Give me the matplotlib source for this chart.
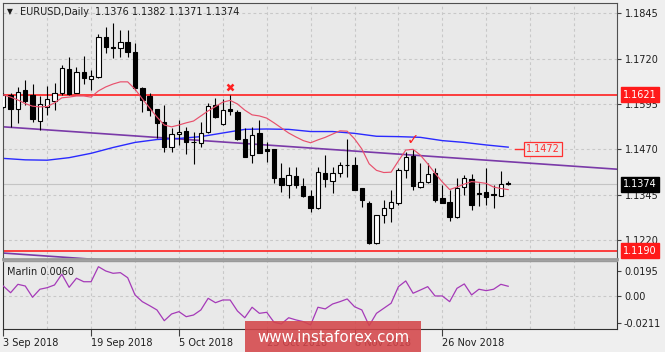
import matplotlib.pyplot as plt
import matplotlib.transforms as mtransforms
from matplotlib.patches import Rectangle
import numpy as np

# EURUSD daily candles, 3 Sep 2018 .. 7 Dec 2018
opens = [1.1587, 1.1620, 1.1581, 1.1634, 1.1620, 1.1548, 1.1587, 1.1603, 1.1625, 1.1691,
         1.1625, 1.1683, 1.1664, 1.1669, 1.1780, 1.1752, 1.1750, 1.1766, 1.1738, 1.1639,
         1.1617, 1.1581, 1.1545, 1.1476, 1.1512, 1.1521, 1.1491, 1.1488, 1.1518, 1.1592,
         1.1540, 1.1581, 1.1573, 1.1498, 1.1454, 1.1515, 1.1471, 1.1471, 1.1391, 1.1372,
         1.1397, 1.1369, 1.1341, 1.1308, 1.1405, 1.1383, 1.1405, 1.1428, 1.1427, 1.1363,
         1.1322, 1.1212, 1.1289, 1.1308, 1.1322, 1.1413, 1.1451, 1.1366, 1.1380, 1.1405,
         1.1336, 1.1325, 1.1283, 1.1366, 1.1388, 1.1350, 1.1352, 1.1347, 1.1341, 1.1376]
highs = [1.1625, 1.1625, 1.1642, 1.1661, 1.1650, 1.1617, 1.1645, 1.1653, 1.1702, 1.1725,
         1.1697, 1.1727, 1.1689, 1.1788, 1.1807, 1.1818, 1.1799, 1.1799, 1.1763, 1.1642,
         1.1625, 1.1582, 1.1592, 1.1529, 1.1551, 1.1532, 1.1518, 1.1545, 1.1598, 1.1612,
         1.1609, 1.1620, 1.1578, 1.1529, 1.1532, 1.1551, 1.1490, 1.1472, 1.1432, 1.1421,
         1.1421, 1.1391, 1.1358, 1.1421, 1.1454, 1.1421, 1.1435, 1.1498, 1.1449, 1.1364,
         1.1328, 1.1290, 1.1330, 1.1358, 1.1419, 1.1463, 1.1471, 1.1432, 1.1432, 1.1419,
         1.1372, 1.1358, 1.1391, 1.1399, 1.1402, 1.1377, 1.1419, 1.1372, 1.1410, 1.1382]
lows = [1.1584, 1.1532, 1.1543, 1.1592, 1.1545, 1.1523, 1.1565, 1.1578, 1.1620, 1.1620,
        1.1624, 1.1650, 1.1634, 1.1668, 1.1736, 1.1722, 1.1724, 1.1724, 1.1634, 1.1573,
        1.1562, 1.1501, 1.1463, 1.1463, 1.1482, 1.1457, 1.1430, 1.1476, 1.1515, 1.1556,
        1.1537, 1.1565, 1.1496, 1.1448, 1.1432, 1.1459, 1.1435, 1.1377, 1.1352, 1.1336,
        1.1363, 1.1338, 1.1297, 1.1306, 1.1366, 1.1350, 1.1394, 1.1394, 1.1357, 1.1311,
        1.1210, 1.1210, 1.1267, 1.1270, 1.1317, 1.1391, 1.1358, 1.1363, 1.1377, 1.1325,
        1.1321, 1.1273, 1.1282, 1.1344, 1.1303, 1.1314, 1.1317, 1.1308, 1.1340, 1.1371]
closes = [1.1620, 1.1581, 1.1628, 1.1603, 1.1554, 1.1595, 1.1609, 1.1625, 1.1694, 1.1623,
          1.1683, 1.1667, 1.1672, 1.1780, 1.1752, 1.1750, 1.1766, 1.1738, 1.1639, 1.1606,
          1.1578, 1.1543, 1.1476, 1.1512, 1.1518, 1.1490, 1.1489, 1.1515, 1.1590, 1.1559,
          1.1578, 1.1575, 1.1498, 1.1449, 1.1510, 1.1460, 1.1465, 1.1391, 1.1372, 1.1399,
          1.1372, 1.1341, 1.1308, 1.1407, 1.1388, 1.1405, 1.1427, 1.1426, 1.1358, 1.1330,
          1.1212, 1.1289, 1.1308, 1.1325, 1.1413, 1.1449, 1.1369, 1.1380, 1.1402, 1.1330,
          1.1322, 1.1283, 1.1363, 1.1391, 1.1317, 1.1348, 1.1338, 1.1345, 1.1374, 1.1374]

# fast moving average (red), one value per bar
red_ma = [1.1620, 1.1614, 1.1606, 1.1596, 1.1589, 1.1587, 1.1588, 1.1598, 1.1612, 1.1614,
          1.1617, 1.1617, 1.1614, 1.1631, 1.1642, 1.1650, 1.1656, 1.1656, 1.1636, 1.1609,
          1.1584, 1.1559, 1.1537, 1.1532, 1.1537, 1.1543, 1.1548, 1.1562, 1.1576, 1.1588,
          1.1600, 1.1605, 1.1595, 1.1578, 1.1565, 1.1562, 1.1556, 1.1543, 1.1529, 1.1515,
          1.1504, 1.1494, 1.1488, 1.1496, 1.1503, 1.1512, 1.1521, 1.1520, 1.1499, 1.1471,
          1.1430, 1.1412, 1.1406, 1.1407, 1.1438, 1.1468, 1.1470, 1.1454, 1.1430, 1.1404,
          1.1380, 1.1359, 1.1366, 1.1374, 1.1381, 1.1379, 1.1376, 1.1366, 1.1362, 1.1359]

# slow moving average (blue), read every third bar
blue_bars = [0, 3, 6, 9, 12, 15, 18, 21, 24, 27, 30, 33, 36, 39, 42, 45, 48, 51, 54, 57, 60, 63, 66, 69]
blue_ma = [1.1445, 1.1441, 1.1440, 1.1447, 1.1459, 1.1475, 1.1489, 1.1497, 1.1500, 1.1505,
           1.1515, 1.1525, 1.1526, 1.1525, 1.1519, 1.1519, 1.1514, 1.1506, 1.1505, 1.1503,
           1.1494, 1.1489, 1.1482, 1.1476]

# Marlin oscillator
marlin = [0.0077, 0.0025, 0.0090, 0.0077, -0.0010, 0.0052, 0.0064, 0.0085, 0.0168, 0.0067,
          0.0137, 0.0110, 0.0110, 0.0226, 0.0193, 0.0175, 0.0180, 0.0141, 0.0008, -0.0044,
          -0.0075, -0.0108, -0.0191, -0.0139, -0.0121, -0.0160, -0.0147, -0.0108, -0.0018, -0.0052,
          -0.0031, -0.0031, -0.0116, -0.0168, -0.0087, -0.0134, -0.0126, -0.0203, -0.0216, -0.0168,
          -0.0185, -0.0198, -0.0224, -0.0087, -0.0100, -0.0062, -0.0044, -0.0023, -0.0083, -0.0108,
          -0.0229, -0.0134, -0.0095, -0.0056, 0.0072, 0.0116, 0.0021, 0.0046, 0.0072, 0.0000,
          0.0000, -0.0044, 0.0059, 0.0093, 0.0008, 0.0052, 0.0041, 0.0052, 0.0090, 0.0075]

# horizontal levels and channel lines
levels = [1.1621, 1.1190]
channel_bars = [0, 84]
channel_top = [1.1532, 1.1415]
channel_bottom = [1.1184, 1.1067]
bid = 1.1374
target = 1.1472
cross_bar, cross_price = 31, 1.1641
check_bar, check_price = 56, 1.1497

price_ticks = [1.1845, 1.1720, 1.1595, 1.1470, 1.1345, 1.1220]
marlin_ticks = [0.0195, 0.0, -0.0211]
marlin_tick_labels = ["0.0195", "0.00", "-0.0211"]
date_bars = [0, 12, 24, 36, 48, 60]
date_labels = ["3 Sep 2018", "19 Sep 2018", "5 Oct 2018", "23 Oct 2018", "8 Nov 2018", "26 Nov 2018"]

W, H = 665, 352
BG = "#e9e9e9"
TXT = "#1e1e1e"
GRID = "#c8c8c8"
DASH = (0, (2.5, 2.5))

fig = plt.figure(figsize=(W / 100, H / 100), dpi=100, facecolor="#efefef")

ax = fig.add_axes([2.7 / W, 1 - 259 / H, 614.3 / W, 256 / H], facecolor=BG)
ax2 = fig.add_axes([2.7 / W, 1 - 329 / H, 614.3 / W, 68 / H], facecolor=BG)

xlim = (-0.08, 83.87)
for a in (ax, ax2):
    a.set_xlim(*xlim)
    for b in range(6, 84, 6):
        a.axvline(b, color=GRID, lw=0.8, ls=DASH, zorder=0)

ax.set_ylim(1.11676, 1.18734)
ax2.set_ylim(-0.0255, 0.0270)

# price grid and bid line
for p in price_ticks:
    ax.axhline(p, color=GRID, lw=0.8, ls=DASH, zorder=0)
ax.axhline(bid, color="#c4c4c4", lw=0.8, zorder=1)

# channel lines
ax.plot(channel_bars, channel_top, color="#7a3aa8", lw=1.2, zorder=2)
ax.plot(channel_bars, channel_bottom, color="#7a3aa8", lw=1.2, zorder=2)

# levels
for lv in levels:
    ax.axhline(lv, color="#ff2020", lw=1.2, zorder=2)

# moving averages
ax.plot(blue_bars, blue_ma, color="#2a2aff", lw=1.0, zorder=2)
x = np.arange(len(opens))
ax.plot(x, red_ma, color="#e8506c", lw=0.85, zorder=5)

# candles
for i in range(len(opens)):
    o, h, l, c = opens[i], highs[i], lows[i], closes[i]
    ax.vlines(i, l, h, color="black", lw=0.8, zorder=3)
    lo, hi = min(o, c), max(o, c)
    ax.bar(i, max(hi - lo, 0.00003), bottom=lo, width=0.6,
           color="white" if c > o else "black", edgecolor="black", lw=0.8, zorder=4)

# arrows on chart
ax.plot(cross_bar, cross_price, marker="x", color="#ff2020", ms=4.5, mew=1.8, zorder=6)
ax.text(check_bar, check_price, "\u2713", color="#ff2020", fontsize=10.5,
        ha="center", va="center", zorder=6)

# target label
ax.plot([69.9, 71.0], [target, target], color="#ff3030", lw=1.0, zorder=6)
ax.text(71.4, target, f"{target:.4f}", color="#ff3030", fontsize=7, ha="left", va="center",
        bbox=dict(boxstyle="square,pad=0.2", fc=BG, ec="#ff3030", lw=0.9), zorder=6)

# price axis on the right
ax.yaxis.tick_right()
ax.set_yticks(price_ticks)
ax.set_yticklabels([f"{p:.4f}" for p in price_ticks])
ax.tick_params(axis="y", length=3, width=0.8, pad=3, labelsize=7, colors="#404040", labelcolor=TXT)
ax.set_xticks([])

trans = mtransforms.blended_transform_factory(ax.transAxes, ax.transData)
for val, face in [(levels[0], "#ff1a1a"), (levels[1], "#ff1a1a"), (bid, "black")]:
    ax.text(1.0098, val, f"{val:.4f}", transform=trans, color="white", fontsize=7,
            ha="left", va="center", clip_on=False, zorder=10,
            bbox=dict(boxstyle="square,pad=0.25", fc=face, ec=face))

for s in ["left", "top", "right"]:
    ax.spines[s].set_color("#505050")
    ax.spines[s].set_linewidth(0.8)
ax.spines["bottom"].set_color("#9a9a9a")
ax.spines["bottom"].set_linewidth(2.0)

# Marlin panel
ax2.axhline(0, color=GRID, lw=0.8, ls=DASH, zorder=0)
ax2.plot(x, marlin, color="#a53ab8", lw=0.9, zorder=3)
ax2.yaxis.tick_right()
ax2.set_yticks(marlin_ticks)
ax2.set_yticklabels(marlin_tick_labels)
ax2.tick_params(axis="y", length=3, width=0.8, pad=2, labelsize=7, colors="#404040", labelcolor=TXT)
ax2.set_xticks(date_bars)
ax2.set_xticklabels(date_labels)
ax2.tick_params(axis="x", length=5, width=0.8, pad=1.5, labelsize=7, colors="#404040", labelcolor=TXT)
for lbl in ax2.get_xticklabels():
    lbl.set_ha("left")
for s in ["left", "bottom", "right"]:
    ax2.spines[s].set_color("#303030")
    ax2.spines[s].set_linewidth(0.8)
ax2.spines["top"].set_color("#9a9a9a")
ax2.spines["top"].set_linewidth(1.0)

# titles
fig.text(7 / W, 1 - 12 / H, "\u25bc", fontsize=5.5, color=TXT, va="center")
fig.text(20 / W, 1 - 12 / H, "EURUSD,Daily", fontsize=7, color=TXT, va="center")
fig.text(95 / W, 1 - 12 / H, "1.1376 1.1382 1.1371 1.1374", fontsize=7, color=TXT, va="center")
fig.text(7 / W, 1 - 272 / H, "Marlin 0.0060", fontsize=7, color=TXT, va="center")

# watermark (sits over two of the date labels, as in the original)
fig.patches.append(Rectangle((245 / W, 0), 176 / W, 31 / H, transform=fig.transFigure,
                             fc="#d4464a", alpha=0.88, ec="none", zorder=10))
fig.text(333 / W, 1 - 337 / H, "www.instaforex.com", color="white", fontsize=10.8,
         ha="center", va="center", zorder=11)

fig.savefig("out.png", dpi=100, facecolor=fig.get_facecolor())
